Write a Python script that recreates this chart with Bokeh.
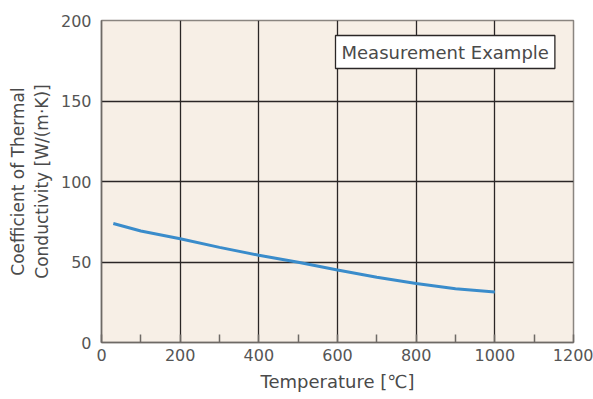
from bokeh.plotting import figure
from bokeh.models import SingleIntervalTicker, Label, Range1d
from bokeh.embed import file_html
from bokeh.resources import INLINE

temperature = [30, 100, 200, 300, 400, 500, 600, 700, 800, 900, 1000]
conductivity = [73.9, 69.3, 64.4, 59.1, 54.2, 49.8, 45.0, 40.5, 36.6, 33.4, 31.3]

FONT = "DejaVu Sans"
TXT = "#4a4a4a"

p = figure(width=593, height=399, output_backend="svg", toolbar_location=None,
           x_range=Range1d(0, 1200), y_range=Range1d(0, 200),
           min_border_left=101, min_border_right=20, min_border_top=20, min_border_bottom=57,
           background_fill_color="#f7efe6", border_fill_color="white")
p.outline_line_color = "#8a8580"
p.outline_line_width = 1.5

p.xaxis.ticker = SingleIntervalTicker(interval=200, num_minor_ticks=2)
p.yaxis.ticker = SingleIntervalTicker(interval=50, num_minor_ticks=0)
p.xgrid.ticker = SingleIntervalTicker(interval=200)
p.ygrid.ticker = SingleIntervalTicker(interval=50)
for g in (p.xgrid, p.ygrid):
    g.grid_line_color = "#2a2626"
    g.grid_line_width = 1.3

for ax in (p.xaxis, p.yaxis):
    ax.axis_line_color = "#6e6a66"
    ax.axis_line_width = 1.5
    ax.major_tick_out = 0
    ax.major_tick_in = 0
    ax.major_label_text_font = FONT
    ax.major_label_text_font_size = "16px"
    ax.major_label_text_color = "#555555"
    ax.axis_label_text_font = FONT
    ax.axis_label_text_color = TXT
    ax.axis_label_text_font_style = "normal"
p.xaxis.axis_label_text_font_size = "18px"
p.yaxis.axis_label_text_font_size = "17px"
p.xaxis.minor_tick_in = 8
p.xaxis.minor_tick_out = 0
p.xaxis.minor_tick_line_color = "#6e6a66"
p.xaxis.minor_tick_line_width = 1.5
p.yaxis.minor_tick_line_color = None
p.xaxis.major_label_standoff = 6
p.yaxis.major_label_standoff = 10
p.xaxis.axis_label = "Temperature [\u2103]"
p.xaxis.axis_label_standoff = 7
p.yaxis.axis_label = "Coefficient of Thermal\nConductivity [W/(m\u00b7K)]"
p.yaxis.axis_label_standoff = 6

p.line(temperature, conductivity, line_color="#3a8ccb", line_width=3)

lbl = Label(x=234, y=307, x_units="screen", y_units="screen",
            text="Measurement Example", text_font=FONT, text_font_size="18px",
            text_color=TXT, text_baseline="top",
            background_fill_color="white", border_line_color="#2a2626",
            border_line_width=1.3, padding=6)
p.add_layout(lbl)

open("out.html", "w").write(file_html(p, INLINE))
